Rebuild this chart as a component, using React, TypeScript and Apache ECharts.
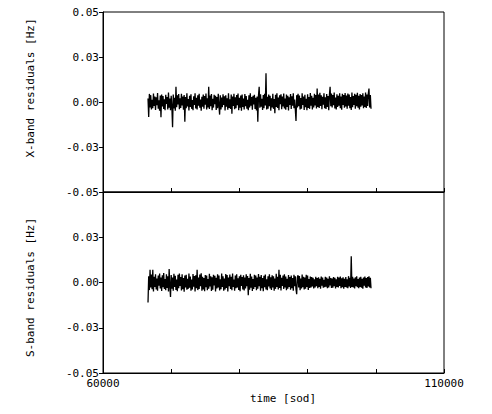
import React, { useEffect, useRef } from "react";
import * as echarts from "echarts";

// sampling grid of the residuals (seconds of day)
const TIME_START = 66600;
const TIME_STEP = 100;

const X_TICKS_SHOWN = [60000, 110000];

const XBAND: number[] = [
  .0020, -.0083, .0045, -.0030, .0038, -.0041, .0012, -.0035, .0047, -.0022,
  .0031, -.0044, .0026, -.0018, .0050, -.0037, .0009, -.0048, .0036, -.0085,
  .0042, -.0025, .0033, -.0039, .0015, -.0046, .0040, -.0011, .0028, -.0042,
  .0052, -.0031, .0019, -.0045, .0034, -.0027, -.0140, .0041, -.0036, .0023,
  -.0048, .0085, -.0029, .0037, -.0013, .0044, -.0040, .0021, -.0033, .0046,
  -.0019, .0030, -.0043, .0039, -.0110, .0027, -.0034, .0048, -.0024, .0016,
  -.0047, .0035, -.0028, .0043, -.0038, .0011, -.0045, .0032, -.0017, .0049,
  -.0036, .0024, -.0041, .0038, -.0021, .0045, -.0032, .0014, -.0049, .0029,
  -.0026, .0041, -.0037, .0033, -.0015, .0047, -.0042, .0020, -.0030, .0085,
  -.0039, .0036, -.0023, .0044, -.0046, .0018, -.0031, .0040, -.0012, .0034,
  -.0044, .0027, -.0035, .0046, -.0020, -.0070, .0038, -.0041, .0025, -.0029,
  .0043, -.0016, .0032, -.0047, .0037, -.0026, .0021, -.0043, .0048, -.0033,
  .0015, -.0038, .0042, -.0065, .0030, -.0022, .0045, -.0040, .0026, -.0034,
  .0039, -.0018, .0047, -.0045, .0023, -.0031, .0036, -.0049, .0041, -.0027,
  .0019, -.0042, .0044, -.0024, .0033, -.0037, .0012, -.0046, .0038, -.0030,
  .0049, -.0021, .0028, -.0043, .0035, -.0014, .0040, -.0039, .0024, -.0047,
  .0031, -.0110, .0037, .0085, -.0032, .0043, -.0026, .0018, -.0044, .0039,
  -.0035, .0046, -.0019, .0160, -.0041, .0029, -.0037, .0042, -.0023, .0034,
  -.0048, .0021, -.0030, .0045, -.0038, .0016, -.0062, .0040, -.0027, .0048,
  -.0033, .0025, -.0045, .0037, -.0012, .0043, -.0040, .0030, -.0025, .0047,
  -.0036, .0019, -.0043, .0041, -.0028, .0034, -.0047, .0026, -.0017, .0044,
  -.0039, .0032, -.0021, .0048, -.0034, .0013, -.0042, -.0105, .0038, -.0030,
  .0045, -.0024, .0036, -.0041, .0022, -.0037, .0049, -.0016, .0031, -.0044,
  .0040, -.0029, .0018, -.0046, .0043, -.0033, .0027, -.0038, .0050, -.0020,
  .0035, -.0042, .0024, -.0031, .0046, -.0019, .0039, -.0036, .0075, -.0027,
  .0042, -.0033, .0051, -.0022, .0037, -.0040, .0029, -.0015, .0048, -.0034,
  .0026, -.0039, .0044, -.0028, .0033, -.0045, .0040, .0085, -.0024, .0047,
  -.0031, .0038, -.0018, .0052, -.0036, .0025, -.0041, .0043, -.0027, .0034,
  -.0020, .0049, -.0035, .0030, -.0043, .0045, -.0016, .0039, -.0032, .0050,
  -.0025, .0036, -.0038, .0047, -.0021, .0041, -.0034, .0028, -.0044, .0053,
  -.0029, .0033, -.0017, .0046, -.0037, .0040, -.0023, .0051, -.0032, .0035,
  -.0041, .0044, -.0026, .0038, -.0019, .0048, -.0035, .0031, -.0028, .0052,
  -.0033, .0042, -.0022, .0047, .0075, -.0030, .0039, -.0038,
];

const SBAND: number[] = [
  -.0110, .0035, -.0042, .0070, -.0028, .0044, -.0037, .0070, -.0049, .0031,
  -.0024, .0046, -.0039, .0022, -.0045, .0038, -.0018, .0049, -.0033, .0027,
  -.0047, .0040, -.0026, .0052, -.0036, .0019, -.0043, .0045, -.0030, .0034,
  -.0050, .0075, -.0021, -.0080, .0041, -.0034, .0028, -.0046, .0048, -.0025,
  .0037, -.0041, .0016, -.0048, .0043, -.0032, .0050, -.0019, .0030, -.0044,
  .0046, -.0037, .0024, -.0051, .0039, -.0027, .0042, -.0040, .0021, -.0035,
  .0049, -.0029, .0033, -.0045, .0017, -.0038, .0047, -.0023, .0036, -.0049,
  .0040, -.0031, .0070, -.0042, .0027, -.0036, .0044, -.0020, .0051, -.0046,
  .0032, -.0039, .0025, -.0048, .0041, -.0026, .0038, -.0043, .0019, -.0034,
  .0048, -.0022, .0035, -.0047, .0029, -.0040, .0043, -.0017, .0037, -.0050,
  .0026, -.0033, .0045, -.0028, .0039, -.0044, .0018, -.0037, .0049, -.0025,
  .0034, -.0046, .0022, -.0039, .0047, -.0030, .0041, -.0049, .0028, -.0021,
  .0044, -.0036, .0031, -.0043, .0050, -.0024, .0016, -.0045, .0038, -.0032,
  .0046, -.0027, .0023, -.0041, .0035, -.0048, .0042, -.0019, .0030, -.0038,
  .0040, -.0044, .0027, -.0033, .0045, -.0021, .0036, -.0070, .0025, -.0040,
  .0048, -.0029, .0033, -.0047, .0019, -.0036, .0043, -.0025, .0039, -.0042,
  .0028, -.0034, .0047, -.0020, .0032, -.0045, .0041, -.0031, .0024, -.0048,
  .0037, -.0026, .0044, -.0039, .0018, -.0043, .0035, -.0022, .0046, -.0033,
  .0029, -.0041, .0040, -.0028, .0034, -.0046, .0022, -.0035, .0048, -.0024,
  .0031, -.0038, .0070, -.0030, .0042, -.0044, .0026, -.0019, .0039, -.0036,
  .0045, -.0027, .0033, -.0042, .0020, -.0034, .0041, -.0025, .0030, -.0040,
  .0038, -.0032, .0025, -.0045, .0043, -.0021, .0034, -.0037, -.0065, .0029,
  .0040, -.0028, .0036, -.0043, .0022, -.0033, .0044, -.0026, .0031, -.0039,
  .0027, -.0035, .0042, -.0024, .0038, -.0041, .0019, -.0030, .0033, -.0027,
  .0030, -.0022, .0026, -.0033, .0018, -.0028, .0032, -.0020, .0024, -.0031,
  .0029, -.0025, .0021, -.0034, .0033, -.0018, .0027, -.0029, .0015, -.0026,
  .0031, -.0023, .0028, -.0032, .0020, -.0027, .0034, -.0016, .0025, -.0030,
  .0022, -.0029, .0030, -.0021, .0026, -.0033, .0017, -.0025, .0032, -.0028,
  .0027, -.0019, .0033, -.0031, .0023, -.0026, .0029, -.0034, .0021, -.0024,
  .0030, -.0028, .0018, -.0032, .0035, -.0022, .0026, -.0030, .0145, -.0025,
  .0032, -.0027, .0022, -.0033, .0029, -.0020, .0034, -.0026, .0019, -.0031,
  .0028, -.0024, .0031, -.0029, .0021, -.0034, .0027, -.0018, .0033, -.0028,
  .0025, -.0030, .0030, -.0022, .0034, -.0027, .0026, -.0032,
];

const FONT = "DejaVu Sans Mono";

function fmtY(v: number): string {
  const r = Number(v.toFixed(4));
  if (Math.abs(r) < 1e-9) return "0.00";
  return r.toFixed(2);
}

export default function App() {
  const ref = useRef<HTMLDivElement>(null);

  useEffect(() => {
    if (!ref.current) return;
    const chart = echarts.init(ref.current, undefined, { renderer: "svg" });
    const toPairs = (arr: number[]) =>
      arr.map((v, i) => [TIME_START + i * TIME_STEP, v]);

    const black = "#000";
    const labelStyle = { fontFamily: FONT, fontSize: 11, color: black };

    const xCommon = {
      type: "value" as const,
      min: 60000,
      max: 110000,
      interval: 10000,
      axisLine: { show: true, onZero: false, lineStyle: { color: black, width: 1 } },
      axisTick: { show: true, inside: true, length: 4, lineStyle: { color: black } },
      splitLine: { show: false },
    };
    const yCommon = {
      type: "value" as const,
      min: -0.05,
      max: 0.05,
      interval: 0.025,
      axisLine: { show: true, onZero: false, lineStyle: { color: black, width: 1 } },
      axisTick: { show: true, inside: false, length: 4, lineStyle: { color: black } },
      splitLine: { show: false },
      nameLocation: "middle" as const,
      nameRotate: 90,
      nameGap: 67,
    };

    chart.setOption({
      animation: false,
      backgroundColor: "#fff",
      grid: [
        { left: 103, top: 12, width: 341, height: 180, show: true, borderColor: black, borderWidth: 1, backgroundColor: "transparent" },
        { left: 103, top: 192, width: 341, height: 181, show: true, borderColor: black, borderWidth: 1, backgroundColor: "transparent" },
      ],
      xAxis: [
        { ...xCommon, gridIndex: 0, axisLabel: { show: false } },
        {
          ...xCommon,
          gridIndex: 1,
          axisLabel: {
            ...labelStyle,
            margin: 5,
            formatter: (v: number) => (X_TICKS_SHOWN.includes(v) ? String(v) : ""),
          },
          name: "time [sod]",
          nameLocation: "middle",
          nameGap: 20,
          nameTextStyle: { ...labelStyle, padding: [0, 0, 0, 19] },
        },
      ],
      yAxis: [
        {
          ...yCommon,
          gridIndex: 0,
          axisLabel: { ...labelStyle, margin: 4, formatter: fmtY },
          name: "X-band residuals [Hz]",
          nameTextStyle: { ...labelStyle, padding: [0, 0, 0, 28] },
        },
        {
          ...yCommon,
          gridIndex: 1,
          axisLabel: { ...labelStyle, margin: 4, formatter: fmtY, showMaxLabel: false },
          name: "S-band residuals [Hz]",
          nameTextStyle: { ...labelStyle, padding: [0, 10, 0, 0] },
        },
      ],
      series: [
        {
          type: "line",
          xAxisIndex: 0,
          yAxisIndex: 0,
          data: toPairs(XBAND),
          showSymbol: false,
          symbol: "none",
          silent: true,
          lineStyle: { color: black, width: 1.3 },
        },
        {
          type: "line",
          xAxisIndex: 1,
          yAxisIndex: 1,
          data: toPairs(SBAND),
          showSymbol: false,
          symbol: "none",
          silent: true,
          lineStyle: { color: black, width: 1.3 },
        },
      ],
    });

    return () => chart.dispose();
  }, []);

  return (
    <div
      ref={ref}
      style={{ position: "fixed", left: 0, top: 0, width: 492, height: 414, background: "#fff" }}
    />
  );
}
